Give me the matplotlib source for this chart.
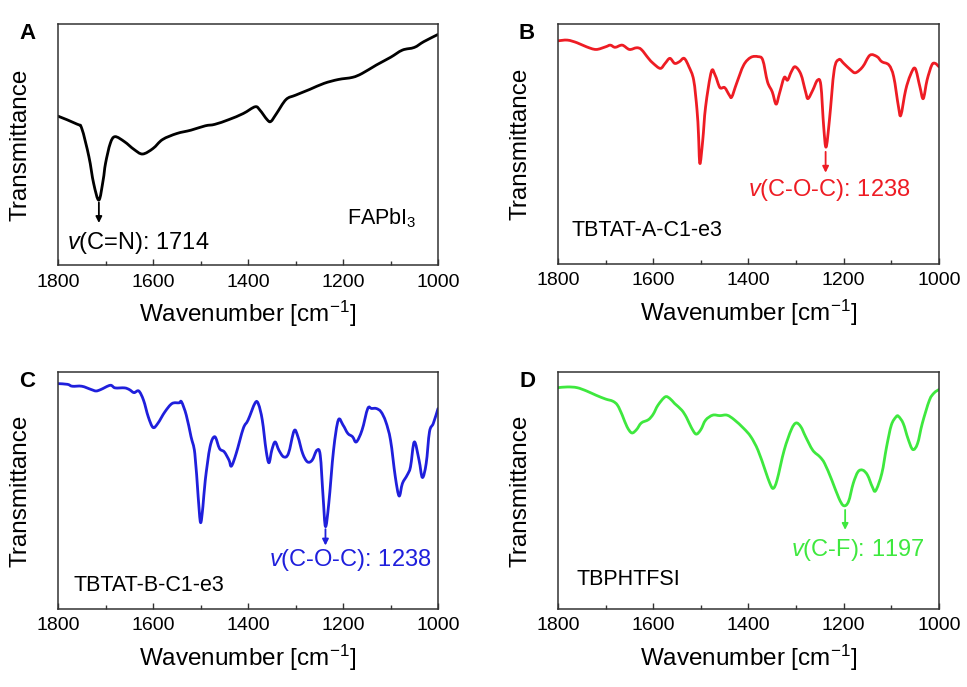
import matplotlib
matplotlib.use("Agg")
import matplotlib.pyplot as plt
import numpy as np
from matplotlib.path import Path
from matplotlib.patches import PathPatch
from matplotlib.ticker import MultipleLocator

plt.rcParams["font.family"] = ["Liberation Sans", "DejaVu Sans"]
plt.rcParams["mathtext.fontset"] = "custom"
plt.rcParams["mathtext.rm"] = "Liberation Sans"
plt.rcParams["mathtext.it"] = "Liberation Sans:italic"

# --- data (transmittance in arbitrary units, 0..1) ---
wn_a = [1800, 1760, 1750, 1735, 1725, 1714, 1705, 1700, 1690, 1680, 1660, 1640,
        1622, 1600, 1580, 1550, 1520, 1490, 1470, 1440, 1410, 1385, 1375, 1360,
        1352, 1340, 1320, 1300, 1270, 1240, 1210, 1180, 1160, 1130, 1100, 1075,
        1050, 1030, 1000]
t_a = [0.618, 0.585, 0.567, 0.450, 0.339, 0.270, 0.353, 0.422, 0.505, 0.533, 0.512,
       0.480, 0.461, 0.484, 0.521, 0.546, 0.560, 0.578, 0.584, 0.604, 0.629, 0.657,
       0.643, 0.604, 0.596, 0.629, 0.687, 0.705, 0.729, 0.754, 0.770, 0.779, 0.795,
       0.830, 0.862, 0.892, 0.903, 0.927, 0.957]

wn_b = [1800, 1780, 1760, 1740, 1720, 1700, 1690, 1680, 1665, 1650, 1635, 1625,
        1610, 1600, 1585, 1575, 1565, 1555, 1545, 1535, 1525, 1515, 1508, 1505,
        1502, 1496, 1490, 1478, 1470, 1460, 1450, 1440, 1435, 1425, 1410, 1395,
        1380, 1370, 1360, 1350, 1342, 1335, 1325, 1318, 1310, 1302, 1290, 1280,
        1275, 1265, 1255, 1248, 1242, 1237, 1230, 1220, 1210, 1200, 1185, 1175,
        1160, 1145, 1130, 1120, 1105, 1095, 1085, 1080, 1070, 1060, 1050, 1040,
        1033, 1025, 1015, 1008, 1000]
t_b = [0.930, 0.933, 0.922, 0.905, 0.894, 0.905, 0.912, 0.903, 0.912, 0.894, 0.901,
       0.894, 0.857, 0.836, 0.815, 0.836, 0.857, 0.836, 0.843, 0.857, 0.822, 0.766,
       0.641, 0.543, 0.418, 0.515, 0.655, 0.801, 0.787, 0.735, 0.735, 0.703, 0.696,
       0.752, 0.829, 0.861, 0.864, 0.850, 0.759, 0.717, 0.666, 0.710, 0.777, 0.766,
       0.801, 0.822, 0.791, 0.717, 0.689, 0.724, 0.766, 0.745, 0.571, 0.487, 0.599,
       0.808, 0.852, 0.836, 0.808, 0.797, 0.822, 0.870, 0.864, 0.843, 0.829, 0.780,
       0.655, 0.620, 0.724, 0.787, 0.815, 0.738, 0.689, 0.766, 0.829, 0.836, 0.822]

wn_c = [1800, 1780, 1770, 1750, 1730, 1720, 1710, 1690, 1680, 1660, 1650, 1640,
        1630, 1620, 1610, 1600, 1590, 1575, 1560, 1545, 1540, 1530, 1520, 1512,
        1505, 1500, 1495, 1490, 1480, 1470, 1460, 1450, 1440, 1435, 1425, 1410,
        1400, 1385, 1378, 1370, 1362, 1356, 1350, 1343, 1335, 1325, 1315, 1303,
        1295, 1285, 1275, 1265, 1255, 1248, 1242, 1237, 1230, 1220, 1210, 1200,
        1190, 1180, 1172, 1160, 1148, 1140, 1130, 1120, 1110, 1100, 1090, 1082,
        1075, 1065, 1058, 1050, 1040, 1033, 1025, 1018, 1010, 1000]
t_c = [0.951, 0.948, 0.940, 0.940, 0.926, 0.920, 0.926, 0.944, 0.933, 0.933, 0.926,
       0.913, 0.920, 0.881, 0.811, 0.766, 0.783, 0.832, 0.867, 0.870, 0.874, 0.818,
       0.727, 0.656, 0.474, 0.365, 0.432, 0.544, 0.684, 0.727, 0.677, 0.663, 0.628,
       0.603, 0.656, 0.762, 0.797, 0.870, 0.864, 0.797, 0.670, 0.617, 0.670, 0.705,
       0.670, 0.642, 0.656, 0.752, 0.727, 0.656, 0.621, 0.628, 0.670, 0.649, 0.474,
       0.348, 0.446, 0.670, 0.797, 0.776, 0.741, 0.727, 0.705, 0.755, 0.846, 0.846,
       0.846, 0.832, 0.790, 0.712, 0.558, 0.477, 0.530, 0.565, 0.600, 0.705, 0.628,
       0.555, 0.614, 0.748, 0.783, 0.846]

wn_d = [1800, 1780, 1760, 1740, 1720, 1700, 1685, 1675, 1665, 1655, 1645, 1635,
        1625, 1610, 1600, 1590, 1575, 1565, 1555, 1540, 1530, 1520, 1510, 1500,
        1490, 1475, 1460, 1445, 1430, 1410, 1395, 1380, 1365, 1355, 1348, 1340,
        1325, 1310, 1300, 1290, 1280, 1265, 1250, 1240, 1225, 1210, 1200, 1190,
        1180, 1170, 1160, 1150, 1140, 1133, 1120, 1110, 1100, 1090, 1085, 1075,
        1065, 1055, 1045, 1035, 1020, 1010, 1000]
t_d = [0.934, 0.937, 0.934, 0.920, 0.902, 0.886, 0.877, 0.860, 0.818, 0.769, 0.743,
       0.757, 0.785, 0.799, 0.822, 0.860, 0.895, 0.888, 0.867, 0.839, 0.808, 0.766,
       0.738, 0.757, 0.797, 0.818, 0.816, 0.818, 0.799, 0.762, 0.727, 0.670, 0.586,
       0.530, 0.509, 0.544, 0.670, 0.757, 0.785, 0.769, 0.727, 0.670, 0.642, 0.614,
       0.544, 0.467, 0.436, 0.453, 0.530, 0.579, 0.586, 0.565, 0.516, 0.499, 0.572,
       0.684, 0.776, 0.811, 0.813, 0.783, 0.719, 0.673, 0.698, 0.783, 0.881, 0.912,
       0.926]

panels = [
    # letter, x, y, colour, sample, peak label, peak wn, arrow y0, arrow y1,
    # label x, label y, sample x, sample y, axes rect
    ("A", wn_a, t_a, "black", "FAPbI$_3$", r"$\mathit{v}$(C=N): 1714", 1714,
     0.26, 0.175, 1781, 0.093, 1192, 0.194, [0.060, 0.614, 0.393, 0.351]),
    ("B", wn_b, t_b, "#ee1c24", "TBTAT-A-C1-e3", r"$\mathit{v}$(C-O-C): 1238", 1238,
     0.467, 0.38, 1401, 0.306, 1772, 0.139, [0.577, 0.616, 0.394, 0.349]),
    ("C", wn_c, t_c, "#1f1fdc", "TBTAT-B-C1-e3", r"$\mathit{v}$(C-O-C): 1238", 1237,
     0.337, 0.268, 1356, 0.208, 1767, 0.098, [0.060, 0.1135, 0.393, 0.345]),
    ("D", wn_d, t_d, "#3ee83e", "TBPHTFSI", r"$\mathit{v}$(C-F): 1197", 1197,
     0.418, 0.334, 1310, 0.250, 1761, 0.123, [0.577, 0.1135, 0.394, 0.345]),
]


def smooth_path(x, y):
    # Catmull-Rom through the read points, drawn as cubic Bezier segments
    p = np.column_stack([x, y]).astype(float)
    verts = [p[0]]
    codes = [Path.MOVETO]
    for i in range(len(p) - 1):
        p0 = p[i - 1] if i > 0 else p[i]
        p3 = p[i + 2] if i + 2 < len(p) else p[i + 1]
        c1 = p[i] + (p[i + 1] - p0) / 6.0
        c2 = p[i + 1] - (p3 - p[i]) / 6.0
        verts += [c1, c2, p[i + 1]]
        codes += [Path.CURVE4] * 3
    return Path(verts, codes)


fig = plt.figure(figsize=(9.67, 6.87), dpi=100)

for (letter, wn, t, col, sample, peak, peak_wn, ay0, ay1,
     lx, ly, sx, sy, rect) in panels:
    ax = fig.add_axes(rect)
    ax.add_patch(PathPatch(smooth_path(wn, t), fill=False, edgecolor=col,
                           lw=2.0, joinstyle="round", capstyle="round"))
    ax.set_xlim(1800, 1000)
    ax.set_ylim(0, 1)
    ax.set_yticks([])
    ax.xaxis.set_major_locator(MultipleLocator(200))
    ax.xaxis.set_minor_locator(MultipleLocator(100))
    ax.tick_params(axis="x", which="both", direction="in", labelsize=14,
                   colors="#333333", labelcolor="black", pad=6)
    ax.tick_params(axis="x", which="major", length=4, width=1)
    ax.tick_params(axis="x", which="minor", length=3, width=1)
    for s in ax.spines.values():
        s.set_color("#333333")
        s.set_linewidth(1.1)
    ax.set_xlabel("Wavenumber [cm$^{-1}$]", fontsize=17.5, labelpad=6)
    ax.set_ylabel("Transmittance", fontsize=17.5)
    ax.yaxis.set_label_coords(-0.07, 0.5)

    ax.annotate("", xy=(peak_wn, ay1), xytext=(peak_wn, ay0),
                arrowprops=dict(arrowstyle="-|>", color=col, lw=1.3,
                                mutation_scale=9, shrinkA=0, shrinkB=0))
    ax.text(lx, ly, peak, color=col, fontsize=17, ha="left", va="center")
    ax.text(sx, sy, sample, color="black", fontsize=15.5, ha="left", va="center")

    fx = rect[0] - 0.032
    fy = rect[1] + rect[3] - 0.014
    fig.text(fx, fy, letter, fontsize=16, fontweight="bold", ha="center", va="center")

fig.savefig("out.png", dpi=100)
